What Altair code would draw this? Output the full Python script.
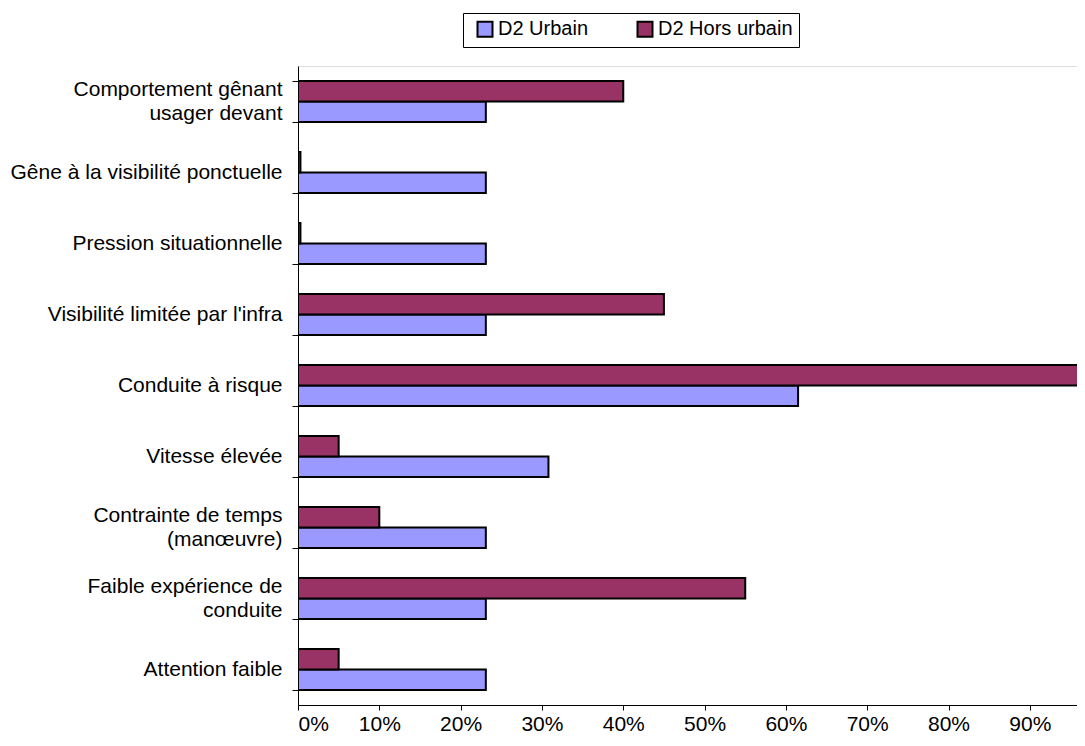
import altair as alt
import pandas as pd

categories = [
    "Comportement gênant|usager devant",
    "Gêne à la visibilité ponctuelle",
    "Pression situationnelle",
    "Visibilité limitée par l'infra",
    "Conduite à risque",
    "Vitesse élevée",
    "Contrainte de temps|(manœuvre)",
    "Faible expérience de|conduite",
    "Attention faible",
]
urbain = [0.231, 0.231, 0.231, 0.231, 0.615, 0.308, 0.231, 0.231, 0.231]
hors_urbain = [0.40, 0.003, 0.003, 0.45, 1.00, 0.05, 0.10, 0.55, 0.05]
series = ["D2 Urbain", "D2 Hors urbain"]
colors = ["#9999FF", "#993366"]
x_ticks = [0, 0.1, 0.2, 0.3, 0.4, 0.5, 0.6, 0.7, 0.8, 0.9]

rows = []
for c, u, h in zip(categories, urbain, hors_urbain):
    rows.append({"cat": c, "serie": series[0], "val": u})
    rows.append({"cat": c, "serie": series[1], "val": h})
df = pd.DataFrame(rows)

FONT = "Liberation Sans"

chart = (
    alt.Chart(df)
    .mark_bar(stroke="black", strokeWidth=2, clip=True)
    .encode(
        y=alt.Y(
            "cat:N",
            sort=categories,
            title=None,
            scale=alt.Scale(paddingInner=0.42, paddingOuter=0.21),
            axis=alt.Axis(
                labelExpr="datum.value ? split(datum.value, '|') : ''",
                labelFont=FONT,
                labelFontSize=21,
                labelColor="black",
                labelPadding=10,
                labelLimit=400,
                labelLineHeight=24,
                labelBaseline="middle",
                labelOffset={
                    "condition": {
                        "test": "datum.value && indexof(datum.value, '|') >= 0",
                        "value": -12,
                    },
                    "value": 0,
                },
                tickBand="extent",
                tickSize=6,
                tickColor="black",
                domainColor="black",
                grid=False,
            ),
        ),
        yOffset=alt.YOffset(
            "serie:N",
            sort=["D2 Hors urbain", "D2 Urbain"],
            scale=alt.Scale(paddingInner=0, paddingOuter=0),
        ),
        x=alt.X(
            "val:Q",
            title=None,
            scale=alt.Scale(domain=[0, 0.958], nice=False, zero=True),
            axis=alt.Axis(
                values=x_ticks,
                format=".0%",
                labelFont=FONT,
                labelFontSize=21,
                labelColor="black",
                labelPadding=3,
                tickSize=5,
                tickColor="black",
                domainColor="black",
                grid=False,
            ),
        ),
        color=alt.Color(
            "serie:N",
            scale=alt.Scale(domain=series, range=colors),
            legend=alt.Legend(
                title=None,
                orient="none",
                direction="horizontal",
                legendX=165,
                legendY=-53,
                symbolType="square",
                symbolSize=225,
                symbolStrokeColor="black",
                symbolStrokeWidth=2,
                symbolOffset=6,
                labelFont=FONT,
                labelFontSize=20,
                labelColor="black",
                columnPadding=40,
                padding=6,
                strokeColor="black",
                fillColor="white",
                labelOffset=3,
            ),
        ),
    )
    .properties(
        width=779,
        height=639,
        autosize=alt.AutoSizeParams(type="none"),
        padding={"left": 290, "top": 58, "right": 0, "bottom": 30},
    )
    .configure_view(stroke=None)
    .configure(background="white")
)

chart.save("out.html", embed_options={"renderer": "svg", "actions": False})
